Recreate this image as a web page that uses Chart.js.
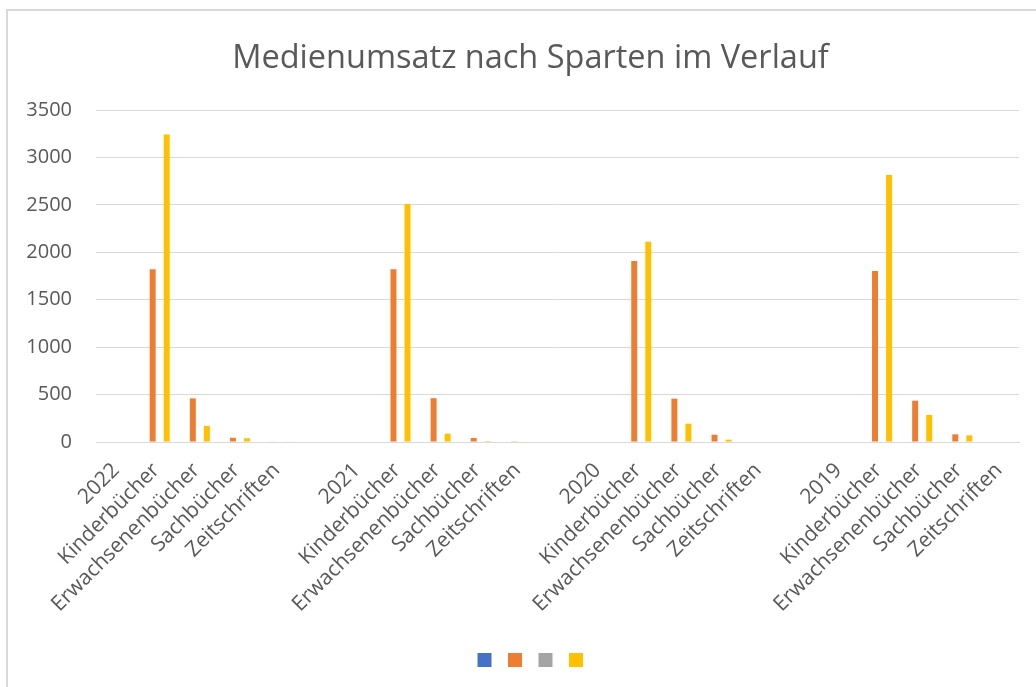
<!DOCTYPE html>
<html>
<head>
<meta charset="utf-8">
<script src="https://cdn.jsdelivr.net/npm/chart.js@4/dist/chart.umd.min.js"></script>
<style>
    html, body { margin: 0; padding: 0; background: #fff; overflow: hidden; }
    #frame {
        position: absolute; left: 6px; top: 9px;
        width: 1040px; height: 690px;
        border: 2px solid #d9d9d9;
    }
    #chart { display: block; }
</style>
</head>
<body>
<div id="frame"><canvas id="chart" width="1040" height="676"></canvas></div>
<script>
// Kategorien (mit Leerstelle zwischen den Jahren)
const categories = [
    '2022', 'Kinderbücher', 'Erwachsenenbücher', 'Sachbücher', 'Zeitschriften', '',
    '2021', 'Kinderbücher', 'Erwachsenenbücher', 'Sachbücher', 'Zeitschriften', '',
    '2020', 'Kinderbücher', 'Erwachsenenbücher', 'Sachbücher', 'Zeitschriften', '',
    '2019', 'Kinderbücher', 'Erwachsenenbücher', 'Sachbücher', 'Zeitschriften'
];

// Reihen (blau und grau sind leer)
const seriesBlue = [];
const seriesOrange = [
    null, 1822, 460, 45, 6, null,
    null, 1820, 462, 42, 3, null,
    null, 1908, 457, 77, 0, null,
    null, 1802, 436, 81, 0
];
const seriesGray = [];
const seriesYellow = [
    null, 3242, 170, 40, 6, null,
    null, 2508, 88, 10, 0, null,
    null, 2111, 193, 25, 0, null,
    null, 2814, 285, 70, 0
];

const yTicks = [0, 500, 1000, 1500, 2000, 2500, 3000, 3500];

const textColor = '#595959';
const gridColor = '#d9d9d9';
const fontFamily = '"Open Sans", "DejaVu Sans", sans-serif';

// Titel und Legende wie in Excel etwas nach rechts setzen
const shiftBlocks = {
    id: 'shiftBlocks',
    afterLayout(chart) {
        if (chart.titleBlock) {
            chart.titleBlock.left += 17;
            chart.titleBlock.right += 17;
        }
        if (chart.legend) {
            chart.legend.left += 20;
            chart.legend.right += 20;
        }
    }
};

function createChart() {
    const ctx = document.getElementById('chart').getContext('2d');
    new Chart(ctx, {
        type: 'bar',
        data: {
            labels: categories,
            datasets: [
                { label: '', data: seriesBlue, backgroundColor: '#4472C4' },
                { label: '', data: seriesOrange, backgroundColor: '#ED7D31' },
                { label: '', data: seriesGray, backgroundColor: '#A5A5A5' },
                { label: '', data: seriesYellow, backgroundColor: '#FFC000' }
            ]
        },
        options: {
            responsive: false,
            animation: false,
            layout: { padding: { top: 28, right: 29, bottom: 10, left: 0 } },
            datasets: {
                bar: { categoryPercentage: 0.7, barPercentage: 0.85 }
            },
            plugins: {
                title: {
                    display: true,
                    text: 'Medienumsatz nach Sparten im Verlauf',
                    color: textColor,
                    font: { family: fontFamily, size: 32.5, weight: 'normal' },
                    padding: { top: 0, bottom: 32 }
                },
                legend: {
                    position: 'bottom',
                    labels: {
                        boxWidth: 14,
                        boxHeight: 14,
                        padding: 10,
                        font: { family: fontFamily, size: 13 }
                    }
                },
                tooltip: { enabled: false }
            },
            scales: {
                x: {
                    grid: { display: false, drawTicks: false },
                    border: { display: true, color: gridColor, width: 1 },
                    ticks: {
                        autoSkip: false,
                        minRotation: 45,
                        maxRotation: 45,
                        padding: 16,
                        color: textColor,
                        font: { family: fontFamily, size: 21 }
                    },
                    afterFit: (scale) => { scale.height = 201; }
                },
                y: {
                    min: 0,
                    max: 3500,
                    afterBuildTicks: (scale) => {
                        scale.ticks = yTicks.map(v => ({ value: v }));
                    },
                    grid: { color: gridColor, lineWidth: 1, drawTicks: false },
                    border: { display: false },
                    ticks: {
                        padding: 24,
                        color: textColor,
                        font: { family: fontFamily, size: 20 },
                        callback: (v) => String(v)
                    },
                    afterFit: (scale) => { scale.width = 88; }
                }
            }
        },
        plugins: [shiftBlocks]
    });
}

document.addEventListener('DOMContentLoaded', createChart);
</script>
</body>
</html>
